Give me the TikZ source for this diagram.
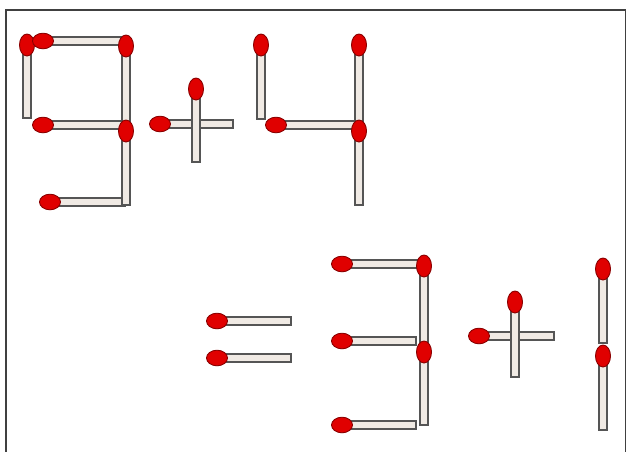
\documentclass[tikz,border=0pt]{standalone}
\definecolor{stickfill}{HTML}{F0EAE4}
\definecolor{stickline}{HTML}{555555}
\definecolor{headfill}{HTML}{E00000}
\definecolor{headline}{HTML}{8A0000}
\definecolor{framecol}{HTML}{404040}
\tikzset{
  matchstick/.style={draw=stickline, fill=stickfill, line width=1.6pt},
  matchhead/.style={draw=headline, fill=headfill, line width=0.9pt},
  framebox/.style={draw=framecol, line width=1.3pt}
}
\newcommand{\hmatch}[3]{%
  \draw[matchstick] (#1,#2-4.2) rectangle (#3,#2+4.2);
  \draw[matchhead] (#1,#2) ellipse (10.5pt and 7.8pt);}
\newcommand{\vmatch}[3]{%
  \draw[matchstick] (#1-4.2,#2) rectangle (#1+4.2,#3);
  \draw[matchhead] (#1,#2) ellipse (7.5pt and 11pt);}
\begin{document}
\begin{tikzpicture}[x=1pt,y=-1pt]
\useasboundingbox (0,0) rectangle (627,451);
\fill[white] (0,0) rectangle (627,451);
\draw[framebox] (6,452) -- (6,10) -- (625.5,10) -- (625.5,452);
% digit 9
\vmatch{27}{45}{118}
\hmatch{43}{41}{122}
\hmatch{43}{125}{122}
\hmatch{50}{202}{125}
\vmatch{126}{46}{128}
\vmatch{126}{131}{205}
% plus
\hmatch{160}{124}{233}
\vmatch{196}{89}{162}
% digit 4
\vmatch{261}{45}{119}
\hmatch{276}{125}{356}
\vmatch{359}{45}{128}
\vmatch{359}{131}{205}
% equals
\hmatch{217}{321}{291}
\hmatch{217}{358}{291}
% digit 3
\hmatch{342}{264}{420}
\hmatch{342}{341}{416}
\hmatch{342}{425}{416}
\vmatch{424}{266}{346}
\vmatch{424}{352}{425}
% plus
\hmatch{479}{336}{554}
\vmatch{515}{302}{377}
% digit 1
\vmatch{603}{269}{343}
\vmatch{603}{356}{430}
\end{tikzpicture}
\end{document}
